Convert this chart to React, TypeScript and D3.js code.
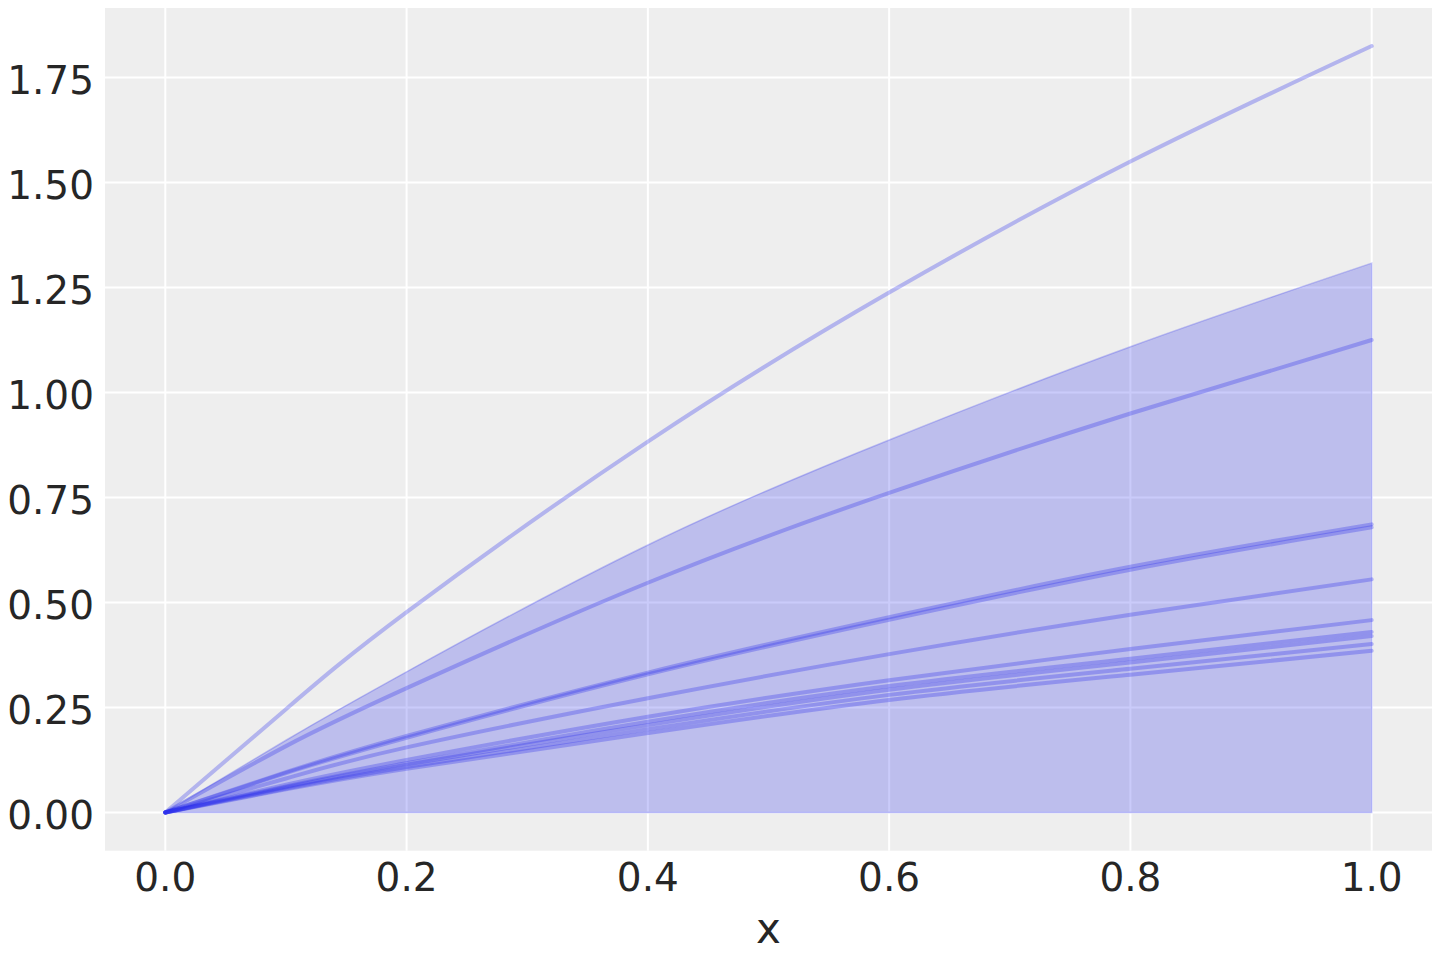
import React from 'react';
import { scaleLinear, line, area, curveNatural, format } from 'd3';

// sample positions along x
const xs = [0, 0.1, 0.2, 0.4, 0.6, 0.8, 1.0];

// upper edge of the shaded band (lower edge sits on zero)
const hdiUpper = [0, 0.172, 0.335, 0.637, 0.887, 1.109, 1.308];
const hdiLower = [0, 0, 0, 0, 0, 0, 0];

// individual curves
const draw1 = [0, 0.246, 0.477, 0.883, 1.238, 1.550, 1.825];
const draw2 = [0, 0.158, 0.296, 0.547, 0.761, 0.950, 1.125];
const draw3 = [0, 0.096, 0.182, 0.333, 0.465, 0.585, 0.686];
const draw4 = [0, 0.094, 0.178, 0.329, 0.459, 0.578, 0.679];
const draw5 = [0, 0.081, 0.155, 0.272, 0.377, 0.471, 0.555];
const draw6 = [0, 0.066, 0.125, 0.228, 0.315, 0.389, 0.458];
const draw7 = [0, 0.062, 0.117, 0.216, 0.301, 0.366, 0.430];
const draw8 = [0, 0.060, 0.114, 0.208, 0.292, 0.357, 0.420];
const draw9 = [0, 0.057, 0.108, 0.198, 0.280, 0.342, 0.401];
const draw10 = [0, 0.055, 0.104, 0.189, 0.268, 0.328, 0.385];

const draws = [draw1, draw2, draw3, draw4, draw5, draw6, draw7, draw8, draw9, draw10];

const xTicks = [0, 0.2, 0.4, 0.6, 0.8, 1.0];
const yTicks = [0, 0.25, 0.5, 0.75, 1.0, 1.25, 1.5, 1.75];
const xLabel = 'x';

const App = () => {
    let width = 1440;
    let height = 960;
    let plot = { left: 105, right: 1432, top: 8, bottom: 850.7 };
    let color = '#2a2eec';
    let textColor = '#262626';
    let font = '"DejaVu Sans", sans-serif';

    let x = scaleLinear().domain([-0.05, 1.05]).range([plot.left, plot.right]);
    let y = scaleLinear().domain([-0.091, 1.9155]).range([plot.bottom, plot.top]);

    let linefunc = line<number>().x((d, i) => x(xs[i])).y(d => y(d)).curve(curveNatural);
    let bandfunc = area<number>()
        .x((d, i) => x(xs[i]))
        .y0((d, i) => y(hdiLower[i]))
        .y1(d => y(d))
        .curve(curveNatural);

    let fx = format('.1f');
    let fy = format('.2f');

    return (
        <div style={{ position: 'absolute', left: 0, top: 0, width: width, height: height }}>
            <svg width={width} height={height} style={{ display: 'block', background: 'white' }}>
                <rect x={plot.left} y={plot.top} width={plot.right - plot.left} height={plot.bottom - plot.top} fill="#eeeeee" />

                <g>
                    {xTicks.map((t, i) => (
                        <line key={'gx' + i} x1={x(t)} x2={x(t)} y1={plot.top} y2={plot.bottom} stroke="white" strokeWidth={2} />
                    ))}
                    {yTicks.map((t, i) => (
                        <line key={'gy' + i} x1={plot.left} x2={plot.right} y1={y(t)} y2={y(t)} stroke="white" strokeWidth={2} />
                    ))}
                </g>

                <path d={bandfunc(hdiUpper) || ''} fill={color} fillOpacity={0.25} stroke={color} strokeOpacity={0.25} strokeWidth={1.5} />

                <g>
                    {draws.map((d, i) => (
                        <path key={i} d={linefunc(d) || ''} fill="none" stroke={color} strokeOpacity={0.3} strokeWidth={4} strokeLinecap="round" />
                    ))}
                </g>

                <g fontFamily={font} fontSize={39} fill={textColor}>
                    {xTicks.map((t, i) => (
                        <text key={'tx' + i} x={x(t)} y={891} textAnchor="middle">{fx(t)}</text>
                    ))}
                    {yTicks.map((t, i) => (
                        <text key={'ty' + i} x={94} y={y(t) + 16.5} textAnchor="end">{fy(t)}</text>
                    ))}
                </g>
                <text x={(plot.left + plot.right) / 2} y={943} textAnchor="middle" fontFamily={font} fontSize={42} fill={textColor}>{xLabel}</text>
            </svg>
        </div>
    );
};

export default App;
